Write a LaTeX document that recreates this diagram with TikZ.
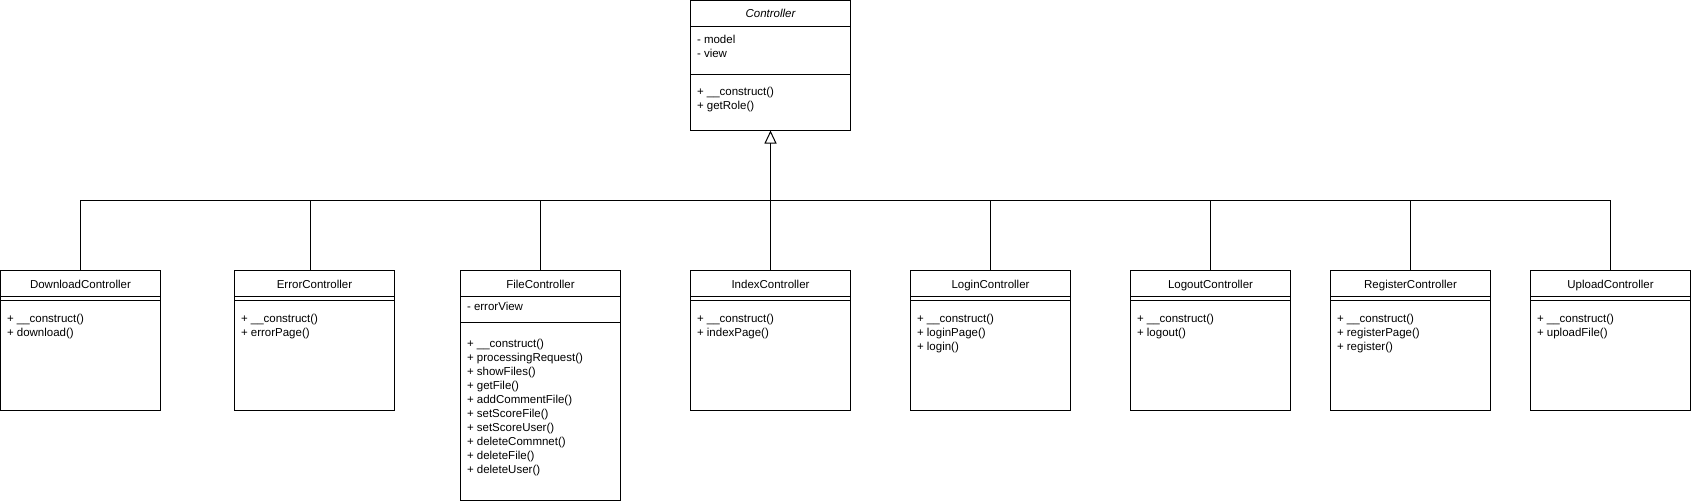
\documentclass[tikz,border=0pt]{standalone}
\usepackage{fontspec}
\setmainfont{Liberation Sans}
\usetikzlibrary{arrows.meta}
\begin{document}
\begin{tikzpicture}[x=1pt,y=-1pt,line width=1pt,
  cls/.style={draw, rectangle, anchor=north west, minimum width=160pt, inner sep=0pt, outer sep=0pt},
  ttl/.style={anchor=base, inner sep=0pt, font=\fontsize{11.5}{14}\selectfont},
  mem/.style={anchor=base west, inner sep=0pt, font=\fontsize{11.5}{14}\selectfont},
  inh/.style={-{Triangle[open,length=13pt,width=12pt]}}]
\useasboundingbox (0,0) rectangle (1691,501);

% Controller
\node[cls, minimum height=130pt] (ctrl) at (690.5,0.5) {};
\node[ttl, font=\fontsize{11.5}{14}\selectfont\itshape] (ctrl-t) at (770.5,17.5) {Controller};
\draw (690.5,26.5) -- ++(160,0);
\draw (690.5,74.5) -- ++(160,0);
\foreach \t [count=\i from 0] in {- model, - view}
  \node[mem] (ctrl-a\i) at (696.5,{43+14*\i}) {\t};
\foreach \t [count=\i from 0] in {+ \_\_construct(), + getRole()}
  \node[mem] (ctrl-m\i) at (696.5,{95+14*\i}) {\t};

% DownloadController
\node[cls, minimum height=140pt] (dl) at (0.5,270.5) {};
\node[ttl] (dl-t) at (80.5,288) {DownloadController};
\draw (0.5,296.5) -- ++(160,0);
\draw (0.5,300.5) -- ++(160,0);
\foreach \t [count=\i from 0] in {+ \_\_construct(), + download()}
  \node[mem] (dl-m\i) at (6.5,{322+14*\i}) {\t};

% ErrorController
\node[cls, minimum height=140pt] (er) at (234.5,270.5) {};
\node[ttl] (er-t) at (314.5,288) {ErrorController};
\draw (234.5,296.5) -- ++(160,0);
\draw (234.5,300.5) -- ++(160,0);
\foreach \t [count=\i from 0] in {+ \_\_construct(), + errorPage()}
  \node[mem] (er-m\i) at (240.5,{322+14*\i}) {\t};

% FileController
\node[cls, minimum height=230pt] (fc) at (460.5,270.5) {};
\node[ttl] (fc-t) at (540.5,288) {FileController};
\draw (460.5,296.5) -- ++(160,0);
\draw (460.5,322.5) -- ++(160,0);
\node[mem] (fc-a0) at (466.5,310.5) {- errorView};
\foreach \t [count=\i from 0] in {+ \_\_construct(), + processingRequest(), + showFiles(), + getFile(), + addCommentFile(), + setScoreFile(), + setScoreUser(), + deleteCommnet(), + deleteFile(), + deleteUser()}
  \node[mem] (fc-m\i) at (466.5,{347+14*\i}) {\t};

% IndexController
\node[cls, minimum height=140pt] (ix) at (690.5,270.5) {};
\node[ttl] (ix-t) at (770.5,288) {IndexController};
\draw (690.5,296.5) -- ++(160,0);
\draw (690.5,300.5) -- ++(160,0);
\foreach \t [count=\i from 0] in {+ \_\_construct(), + indexPage()}
  \node[mem] (ix-m\i) at (696.5,{322+14*\i}) {\t};

% LoginController
\node[cls, minimum height=140pt] (li) at (910.5,270.5) {};
\node[ttl] (li-t) at (990.5,288) {LoginController};
\draw (910.5,296.5) -- ++(160,0);
\draw (910.5,300.5) -- ++(160,0);
\foreach \t [count=\i from 0] in {+ \_\_construct(), + loginPage(), + login()}
  \node[mem] (li-m\i) at (916.5,{322+14*\i}) {\t};

% LogoutController
\node[cls, minimum height=140pt] (lo) at (1130.5,270.5) {};
\node[ttl] (lo-t) at (1210.5,288) {LogoutController};
\draw (1130.5,296.5) -- ++(160,0);
\draw (1130.5,300.5) -- ++(160,0);
\foreach \t [count=\i from 0] in {+ \_\_construct(), + logout()}
  \node[mem] (lo-m\i) at (1136.5,{322+14*\i}) {\t};

% RegisterController
\node[cls, minimum height=140pt] (rg) at (1330.5,270.5) {};
\node[ttl] (rg-t) at (1410.5,288) {RegisterController};
\draw (1330.5,296.5) -- ++(160,0);
\draw (1330.5,300.5) -- ++(160,0);
\foreach \t [count=\i from 0] in {+ \_\_construct(), + registerPage(), + register()}
  \node[mem] (rg-m\i) at (1336.5,{322+14*\i}) {\t};

% UploadController
\node[cls, minimum height=140pt] (up) at (1530.5,270.5) {};
\node[ttl] (up-t) at (1610.5,288) {UploadController};
\draw (1530.5,296.5) -- ++(160,0);
\draw (1530.5,300.5) -- ++(160,0);
\foreach \t [count=\i from 0] in {+ \_\_construct(), + uploadFile()}
  \node[mem] (up-m\i) at (1536.5,{322+14*\i}) {\t};

% inheritance connectors
\coordinate (bus) at (770.5,200.5);
\draw (dl.north) |- (bus);
\draw ([xshift=-4pt]er.north) |- (bus);
\draw (fc.north) |- (bus);
\draw (ix.north) -- (bus);
\draw (li.north) |- (bus);
\draw (lo.north) |- (bus);
\draw (rg.north) |- (bus);
\draw (up.north) |- (bus);
\draw[inh] (bus) -- (ctrl.south);
\end{tikzpicture}
\end{document}
